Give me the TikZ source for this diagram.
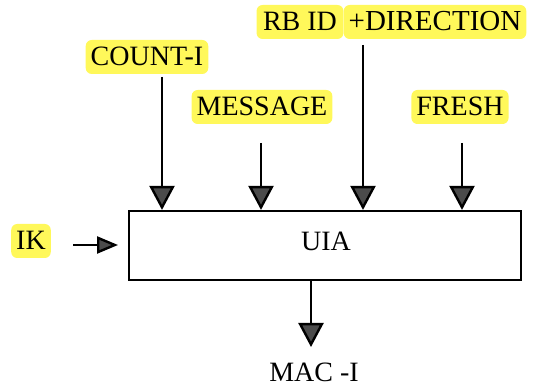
\documentclass[tikz,border=0pt]{standalone}
\usepackage{fontspec}
\setmainfont{Liberation Serif}
\usetikzlibrary{arrows.meta}
\definecolor{hilite}{RGB}{255,248,90}
\definecolor{headgray}{RGB}{75,75,75}
\tikzset{
  tag/.style={fill=hilite, rounded corners=6pt, inner xsep=5pt, inner ysep=6pt,
    text height=20pt, text depth=2pt, font=\fontsize{28}{32}\selectfont},
  plain/.style={inner sep=0pt, text height=20pt, text depth=2pt,
    font=\fontsize{28}{32}\selectfont},
  block/.style={draw, line width=2.2pt, minimum width=392pt, minimum height=69pt,
    inner sep=0pt, font=\fontsize{28}{32}\selectfont},
  flow/.style={line width=2.4pt, -{Triangle[width=25pt,length=24pt,fill=headgray]}},
  smallflow/.style={line width=2.4pt, -{Triangle[width=17pt,length=21pt,fill=headgray]}}
}
\begin{document}
\begin{tikzpicture}[x=1pt,y=-1pt]
  \useasboundingbox (0,0) rectangle (544,387);

  % main block
  \node[block] (uia) at (325,245.5) {};
  \node[plain] (uialbl) at (326,242) {UIA};

  % input labels
  \node[tag] (count) at (147,57) {COUNT-I};
  \node[tag] (msg) at (262,107) {MESSAGE};
  \node[tag, inner xsep=6.5pt] (rbid) at (300,22) {RB ID};
  \node[tag, font=\fontsize{29}{32}\selectfont] (dir) at (435,22) {+DIRECTION};
  \node[tag] (fresh) at (460,107) {FRESH};
  \node[tag] (ik) at (31,241) {IK};
  \node[plain] (mac) at (314,373) {MAC -I};

  % free ends of the connectors
  \coordinate (cs) at (162,77);
  \coordinate (ms) at (261,143);
  \coordinate (rs) at (363,45);
  \coordinate (fs) at (462,143);
  \coordinate (ks) at (73,245);
  \coordinate (ke) at (118,245);
  \coordinate (os) at (311,347);

  % connectors
  \draw[flow] (cs) -- (cs |- uia.north);
  \draw[flow] (ms) -- (ms |- uia.north);
  \draw[flow] (rs) -- (rs |- uia.north);
  \draw[flow] (fs) -- (fs |- uia.north);
  \draw[smallflow] (ks) -- (ke);
  \draw[flow] (os |- uia.south) -- (os);
\end{tikzpicture}
\end{document}
